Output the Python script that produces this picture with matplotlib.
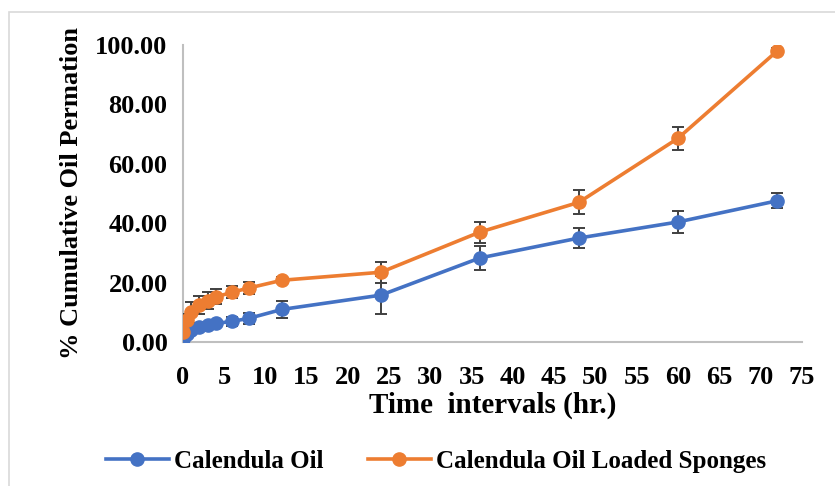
import matplotlib
matplotlib.use("Agg")
import matplotlib.pyplot as plt
from matplotlib.patches import Rectangle
from matplotlib.lines import Line2D

# sampling times (hr.)
hours = [0, 0.5, 1, 2, 3, 4, 6, 8, 12, 24, 36, 48, 60, 72]

# % cumulative permeation and standard deviations
oil = [1.0, 2.8, 4.2, 5.0, 5.7, 6.3, 7.0, 8.0, 11.0, 15.8, 28.3, 35.0, 40.4, 47.5]
oil_sd = [0.8, 1.0, 1.0, 1.0, 1.2, 1.2, 1.5, 1.8, 3.0, 6.5, 4.0, 3.5, 3.8, 2.5]
sponge = [3.4, 7.5, 10.0, 12.5, 14.0, 15.2, 16.8, 18.2, 20.8, 23.5, 37.0, 47.0, 68.5, 97.8]
sponge_sd = [1.5, 2.0, 3.5, 3.0, 3.0, 2.5, 2.0, 2.0, 1.0, 3.5, 3.5, 4.0, 4.0, 1.0]

labels = ["Calendula Oil", "Calendula Oil Loaded Sponges"]
colors = ["#4472C4", "#ED7D31"]

plt.rcParams["font.family"] = ["Liberation Serif", "DejaVu Serif"]
plt.rcParams["font.weight"] = "bold"

fig = plt.figure(figsize=(8.35, 4.86), dpi=100)
ax = fig.add_axes([0.219, 0.296, 0.741, 0.612])

for y, err, c in zip([oil, sponge], [oil_sd, sponge_sd], colors):
    ax.errorbar(hours, y, yerr=err, color=c, lw=2.6, marker="o", ms=9.5,
                ecolor="#404040", elinewidth=1.4, capsize=4, capthick=1.4,
                zorder=3)

ax.set_xlim(0, 75)
ax.set_ylim(0, 100)
ax.set_xticks(range(0, 76, 5))
ax.set_yticks(range(0, 101, 20))
ax.set_yticklabels([f"{v:.2f}" for v in range(0, 101, 20)])
ax.tick_params(length=0, labelsize=19)
ax.tick_params(axis="x", pad=17)
ax.tick_params(axis="y", pad=11)
for s in ["top", "right"]:
    ax.spines[s].set_visible(False)
for s in ["left", "bottom"]:
    ax.spines[s].set_color("#BFBFBF")
    ax.spines[s].set_linewidth(1.5)

ax.set_xlabel("Time  intervals (hr.)", fontsize=21, fontweight="bold", labelpad=2)
ax.set_ylabel("% Cumulative Oil Permation", fontsize=19, fontweight="bold", labelpad=9)

handles = [Line2D([], [], color=c, lw=2.6, marker="o", ms=9.5) for c in colors]
fig.legend(handles, labels, loc="center", bbox_to_anchor=(0.522, 0.05), ncol=2,
           frameon=False, fontsize=18, handlelength=2.5, columnspacing=1.8,
           handletextpad=0.2)

# outer chart-area border
fig.patches.append(Rectangle((9 / 835, -0.05), 1.0, 1 - 12 / 486 + 0.05,
                             transform=fig.transFigure, fill=False,
                             edgecolor="#D9D9D9", lw=1.2))

fig.savefig("out.png", dpi=100)
